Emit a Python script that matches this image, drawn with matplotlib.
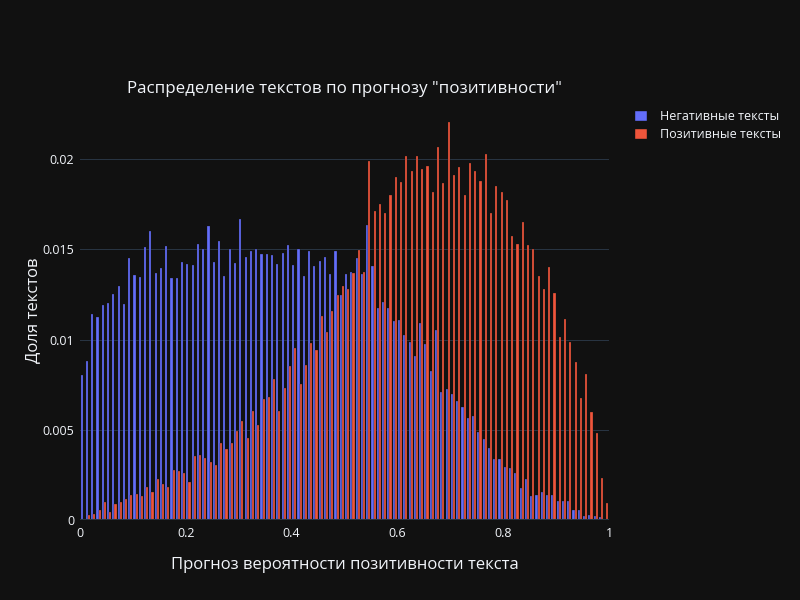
import matplotlib
matplotlib.use("Agg")
import matplotlib.pyplot as plt
import numpy as np
from matplotlib.patches import Patch

plt.rcParams['font.family'] = ['Open Sans', 'DejaVu Sans']

title = 'Распределение текстов по прогнозу "позитивности"'
xlabel = 'Прогноз вероятности позитивности текста'
ylabel = 'Доля текстов'
series_names = ['Негативные тексты', 'Позитивные тексты']

bin_width = 0.01
bin_starts = np.arange(100) * bin_width

negative = [
    0.00805, 0.00884, 0.01143, 0.01126, 0.01193, 0.01202, 0.01254, 0.01300, 0.01197, 0.01454,
    0.01359, 0.01345, 0.01511, 0.01600, 0.01367, 0.01398, 0.01520, 0.01341, 0.01343, 0.01432,
    0.01420, 0.01411, 0.01531, 0.01500, 0.01631, 0.01432, 0.01546, 0.01354, 0.01500, 0.01426,
    0.01670, 0.01459, 0.01493, 0.01504, 0.01472, 0.01472, 0.01467, 0.01419, 0.01478, 0.01522,
    0.01413, 0.01504, 0.01352, 0.01491, 0.01409, 0.01437, 0.01459, 0.01361, 0.01491, 0.01246,
    0.01361, 0.01376, 0.01450, 0.01365, 0.01634, 0.01409, 0.01178, 0.01210, 0.01178, 0.01101,
    0.01106, 0.01027, 0.00988, 0.00907, 0.01093, 0.00973, 0.00827, 0.01054, 0.00711, 0.00729,
    0.00698, 0.00661, 0.00626, 0.00565, 0.00576, 0.00489, 0.00449, 0.00399, 0.00336, 0.00340,
    0.00295, 0.00290, 0.00260, 0.00179, 0.00229, 0.00135, 0.00140, 0.00155, 0.00140, 0.00140,
    0.00103, 0.00107, 0.00103, 0.00057, 0.00057, 0.00024, 0.00030, 0.00024, 0.00018, 0.00003]

positive = [
    0.00003, 0.00028, 0.00035, 0.00057, 0.00102, 0.00044, 0.00091, 0.00102, 0.00115, 0.00141,
    0.00146, 0.00135, 0.00185, 0.00154, 0.00229, 0.00202, 0.00185, 0.00277, 0.00274, 0.00263,
    0.00213, 0.00355, 0.00361, 0.00346, 0.00320, 0.00307, 0.00425, 0.00392, 0.00425, 0.00492,
    0.00551, 0.00455, 0.00605, 0.00529, 0.00670, 0.00680, 0.00781, 0.00607, 0.00733, 0.00854,
    0.00956, 0.00752, 0.00857, 0.00981, 0.00941, 0.01131, 0.01043, 0.01159, 0.01250, 0.01296,
    0.01283, 0.01372, 0.01498, 0.01376, 0.01989, 0.01714, 0.01751, 0.01701, 0.01802, 0.01902,
    0.01873, 0.02018, 0.01934, 0.02018, 0.01946, 0.01963, 0.01819, 0.02068, 0.01867, 0.02207,
    0.01911, 0.01958, 0.01802, 0.01980, 0.01937, 0.01880, 0.02030, 0.01701, 0.01854, 0.01819,
    0.01773, 0.01575, 0.01531, 0.01653, 0.01522, 0.01501, 0.01353, 0.01283, 0.01402, 0.01261,
    0.01014, 0.01117, 0.00988, 0.00877, 0.00677, 0.00809, 0.00600, 0.00480, 0.00233, 0.00094]

xticks = [0, 0.2, 0.4, 0.6, 0.8, 1.0]
xtick_labels = ['0', '0.2', '0.4', '0.6', '0.8', '1']
yticks = [0, 0.005, 0.01, 0.015, 0.02]
ytick_labels = ['0', '0.005', '0.01', '0.015', '0.02']

BG = '#111111'
GRID = '#283442'
TXT = '#f2f5fa'
BLUE = '#636efa'
RED = '#EF553B'

fig = plt.figure(figsize=(8, 6), dpi=100, facecolor=BG)
ax = fig.add_axes([80/800, 80/600, 529/800, 420/600])
ax.set_facecolor(BG)

gap = 0.2
bw = bin_width * (1 - gap) / 2
left_neg = bin_starts + bin_width * gap / 2
left_pos = left_neg + bw
ax.bar(left_neg, negative, width=bw, align='edge', color=BLUE,
       edgecolor=BG, linewidth=0.2, zorder=3, label=series_names[0])
ax.bar(left_pos, positive, width=bw, align='edge', color=RED,
       edgecolor=BG, linewidth=0.2, zorder=3, label=series_names[1])

ax.set_xlim(0, 1)
ax.set_ylim(0, max(max(negative), max(positive)) * 1.055)
for yv in yticks[1:]:
    ax.axhline(yv, color=GRID, lw=0.75, zorder=1)
ax.axhline(0, color=GRID, lw=1.5, zorder=4)

for s in ax.spines.values():
    s.set_visible(False)
ax.set_xticks(xticks)
ax.set_xticklabels(xtick_labels)
ax.set_yticks(yticks)
ax.set_yticklabels(ytick_labels)
ax.tick_params(axis='both', length=0, colors=TXT, labelsize=9)
ax.tick_params(axis='x', pad=5)
ax.tick_params(axis='y', pad=4)

ax.set_xlabel(xlabel, color=TXT, fontsize=12, labelpad=12)
ax.set_ylabel(ylabel, color=TXT, fontsize=12, labelpad=1)

fig.text((80 + 609) / 2 / 800, 1 - 89/600, title, color=TXT, fontsize=12.2,
         ha='center', va='center')

handles = [Patch(facecolor=BLUE, edgecolor=BG, label=series_names[0]),
           Patch(facecolor=RED, edgecolor=BG, label=series_names[1])]
fig.legend(handles=handles, loc='upper left', bbox_to_anchor=(629/800, 1 - 105/600),
           frameon=False, fontsize=9, labelcolor=TXT, handlelength=1.0,
           handleheight=1.0, handletextpad=1.1, labelspacing=0.4, borderaxespad=0)

fig.savefig('out.png', dpi=100, facecolor=BG)
